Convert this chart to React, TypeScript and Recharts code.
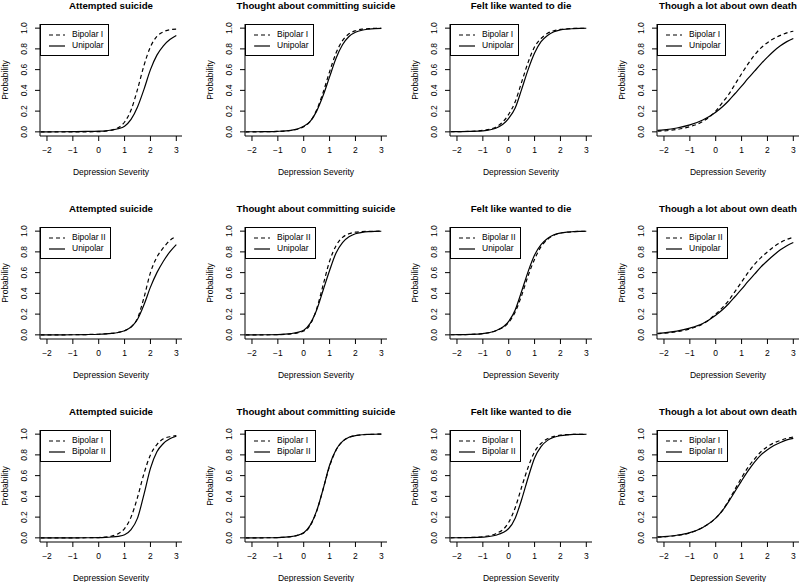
import { LineChart, Line, XAxis, YAxis, Label } from 'recharts';

// x grid the curves were read at
const severity = [-2.25, -2, -1.5, -1, -0.5, 0, 0.25, 0.5, 0.75, 1, 1.25, 1.5, 1.75, 2, 2.25, 2.5, 2.75, 3];
const xTicks = [-2, -1, 0, 1, 2, 3];
const yTicks = [0, 0.2, 0.4, 0.6, 0.8, 1];

const titles = [
  'Attempted suicide',
  'Thought about committing suicide',
  'Felt like wanted to die',
  'Though a lot about own death',
];
const rowLegends = [
  ['Bipolar I', 'Unipolar'],
  ['Bipolar II', 'Unipolar'],
  ['Bipolar I', 'Bipolar II'],
];

// row 1: Bipolar I (dashed) vs Unipolar (solid)
const attemptBipolarI1 = [0, 0, 0, 0, 0.0004, 0.0025, 0.006, 0.016, 0.04, 0.095, 0.21, 0.41, 0.64, 0.82, 0.92, 0.965, 0.985, 0.99];
const attemptUnipolar1 = [0, 0.0005, 0.001, 0.002, 0.004, 0.007, 0.01, 0.018, 0.03, 0.055, 0.12, 0.24, 0.41, 0.6, 0.74, 0.83, 0.89, 0.93];
const thoughtBipolarI1 = [0.0002, 0.0004, 0.001, 0.004, 0.013, 0.05, 0.1, 0.21, 0.38, 0.58, 0.76, 0.88, 0.945, 0.975, 0.99, 0.995, 0.998, 0.999];
const thoughtUnipolar1 = [0.0005, 0.001, 0.002, 0.005, 0.015, 0.055, 0.1, 0.2, 0.35, 0.53, 0.71, 0.84, 0.92, 0.96, 0.98, 0.99, 0.996, 0.998];
const feltBipolarI1 = [0.001, 0.002, 0.005, 0.014, 0.045, 0.17, 0.29, 0.48, 0.67, 0.82, 0.9, 0.95, 0.975, 0.988, 0.994, 0.997, 0.999, 0.999];
const feltUnipolar1 = [0.001, 0.002, 0.004, 0.01, 0.035, 0.13, 0.23, 0.41, 0.6, 0.76, 0.87, 0.93, 0.965, 0.983, 0.991, 0.995, 0.998, 0.999];
const deathBipolarI1 = [0.007, 0.01, 0.023, 0.05, 0.1, 0.2, 0.28, 0.36, 0.46, 0.56, 0.655, 0.74, 0.81, 0.86, 0.9, 0.93, 0.955, 0.97];
const deathUnipolar1 = [0.015, 0.02, 0.037, 0.067, 0.115, 0.19, 0.24, 0.3, 0.37, 0.44, 0.515, 0.585, 0.655, 0.72, 0.78, 0.83, 0.87, 0.9];

// row 2: Bipolar II (dashed) vs Unipolar (solid)
const attemptBipolarII2 = [0, 0.0003, 0.0006, 0.001, 0.003, 0.006, 0.009, 0.014, 0.023, 0.04, 0.075, 0.16, 0.36, 0.6, 0.75, 0.84, 0.91, 0.95];
const attemptUnipolar2 = [0, 0.0003, 0.0006, 0.001, 0.003, 0.006, 0.009, 0.014, 0.023, 0.04, 0.075, 0.15, 0.29, 0.46, 0.6, 0.71, 0.8, 0.87];
const thoughtBipolarII2 = [0.0001, 0.0002, 0.0005, 0.002, 0.009, 0.037, 0.1, 0.25, 0.48, 0.71, 0.86, 0.94, 0.975, 0.99, 0.996, 0.998, 0.999, 1];
const thoughtUnipolar2 = [0.0003, 0.0005, 0.001, 0.003, 0.012, 0.045, 0.11, 0.24, 0.43, 0.62, 0.79, 0.89, 0.945, 0.975, 0.988, 0.995, 0.998, 0.999];
const feltBipolarII2 = [0.001, 0.0015, 0.004, 0.012, 0.04, 0.12, 0.22, 0.38, 0.57, 0.73, 0.85, 0.92, 0.96, 0.98, 0.99, 0.995, 0.998, 0.999];
const feltUnipolar2 = [0.001, 0.0015, 0.004, 0.012, 0.04, 0.13, 0.24, 0.42, 0.61, 0.77, 0.87, 0.93, 0.965, 0.982, 0.991, 0.995, 0.998, 0.999];
const deathBipolarII2 = [0.012, 0.016, 0.03, 0.058, 0.105, 0.2, 0.26, 0.33, 0.42, 0.51, 0.6, 0.68, 0.745, 0.8, 0.85, 0.89, 0.92, 0.94];
const deathUnipolar2 = [0.015, 0.02, 0.036, 0.065, 0.11, 0.19, 0.24, 0.3, 0.37, 0.44, 0.515, 0.585, 0.655, 0.715, 0.77, 0.82, 0.86, 0.89];

// row 3: Bipolar I (dashed) vs Bipolar II (solid)
const attemptBipolarI3 = [0, 0, 0, 0.0003, 0.001, 0.003, 0.007, 0.017, 0.04, 0.09, 0.2, 0.39, 0.62, 0.8, 0.9, 0.955, 0.975, 0.985];
const attemptBipolarII3 = [0, 0, 0, 0.0003, 0.001, 0.002, 0.004, 0.008, 0.015, 0.03, 0.08, 0.19, 0.42, 0.67, 0.83, 0.91, 0.955, 0.98];
const thoughtBipolarI3 = [0.0002, 0.0003, 0.0008, 0.003, 0.012, 0.048, 0.115, 0.255, 0.47, 0.69, 0.845, 0.93, 0.97, 0.987, 0.995, 0.998, 0.999, 1];
const thoughtBipolarII3 = [0.0002, 0.0003, 0.0008, 0.003, 0.012, 0.05, 0.12, 0.26, 0.47, 0.7, 0.85, 0.93, 0.97, 0.986, 0.994, 0.997, 0.999, 1];
const feltBipolarI3 = [0.001, 0.0015, 0.004, 0.011, 0.04, 0.15, 0.29, 0.49, 0.68, 0.83, 0.91, 0.955, 0.978, 0.99, 0.995, 0.997, 0.999, 0.999];
const feltBipolarII3 = [0.0005, 0.001, 0.002, 0.007, 0.025, 0.09, 0.19, 0.37, 0.58, 0.77, 0.88, 0.94, 0.97, 0.985, 0.993, 0.997, 0.998, 0.999];
const deathBipolarI3 = [0.007, 0.01, 0.022, 0.048, 0.1, 0.19, 0.26, 0.36, 0.47, 0.58, 0.68, 0.76, 0.83, 0.88, 0.915, 0.94, 0.96, 0.972];
const deathBipolarII3 = [0.009, 0.012, 0.025, 0.05, 0.1, 0.19, 0.26, 0.35, 0.45, 0.55, 0.645, 0.73, 0.8, 0.85, 0.89, 0.92, 0.945, 0.96];

const grid = [
  [
    [attemptBipolarI1, attemptUnipolar1],
    [thoughtBipolarI1, thoughtUnipolar1],
    [feltBipolarI1, feltUnipolar1],
    [deathBipolarI1, deathUnipolar1],
  ],
  [
    [attemptBipolarII2, attemptUnipolar2],
    [thoughtBipolarII2, thoughtUnipolar2],
    [feltBipolarII2, feltUnipolar2],
    [deathBipolarII2, deathUnipolar2],
  ],
  [
    [attemptBipolarI3, attemptBipolarII3],
    [thoughtBipolarI3, thoughtBipolarII3],
    [feltBipolarI3, feltBipolarII3],
    [deathBipolarI3, deathBipolarII3],
  ],
];

// plot box positions on the page
const colLeft = [40, 245, 450, 657];
const rowTop = [24, 227, 430];
const BOX_W = 142;
const BOX_H = 112;
const AXIS_W = 40;
const AXIS_H = 46;
const TOP = 24;
const CHART_W = AXIS_W + BOX_W + 16;
const CHART_H = TOP + BOX_H + AXIS_H;

const X_DOMAIN = [-2.27, 3.22];
const Y_DOMAIN = [-0.04, 1.04];
const FONT = '"Liberation Sans", Arial, sans-serif';
const DASH = '4 3';

const fmtX = (v: number) => (v < 0 ? `\u2212${-v}` : `${v}`);

function YTick(props: any) {
  const { x, y, payload } = props;
  return (
    <text
      x={x}
      y={y}
      transform={`rotate(-90 ${x} ${y})`}
      textAnchor="middle"
      fontSize={8.5}
      fill="#000"
    >
      {Number(payload.value).toFixed(1)}
    </text>
  );
}

function YLabel(props: any) {
  const vb = props.viewBox || { x: 0, y: TOP, width: AXIS_W, height: BOX_H };
  const x = vb.x + vb.width - 32;
  const y = vb.y + vb.height / 2;
  return (
    <text x={x} y={y} transform={`rotate(-90 ${x} ${y})`} textAnchor="middle" fontSize={8.5} fill="#000">
      Probability
    </text>
  );
}

function XLabel(props: any) {
  const vb = props.viewBox || { x: AXIS_W, y: TOP + BOX_H, width: BOX_W, height: AXIS_H };
  return (
    <text x={vb.x + vb.width / 2} y={vb.y + 39} textAnchor="middle" fontSize={8.5} fill="#000">
      Depression Severity
    </text>
  );
}

function LegendBox({ labels }: { labels: string[] }) {
  const row = (label: string, dashed: boolean) => (
    <div style={{ display: 'flex', alignItems: 'center', height: 11 }}>
      <svg width={16} height={4} style={{ marginRight: 7 }}>
        <line x1={0} y1={2} x2={16} y2={2} stroke="#000" strokeWidth={1.2} strokeDasharray={dashed ? DASH : undefined} />
      </svg>
      <span>{label}</span>
    </div>
  );
  return (
    <div
      style={{
        position: 'absolute',
        left: AXIS_W,
        top: TOP,
        border: '1px solid #000',
        background: '#fff',
        padding: '4px 4px 4px 8px',
        fontSize: 8.5,
        lineHeight: '11px',
        whiteSpace: 'nowrap',
      }}
    >
      {row(labels[0], true)}
      {row(labels[1], false)}
    </div>
  );
}

function Panel({ title, labels, dashed, solid, left, top }: any) {
  const data = severity.map((x, i) => ({ x, dashed: dashed[i], solid: solid[i] }));
  return (
    <div style={{ position: 'absolute', left: left - AXIS_W, top: top - TOP, width: CHART_W, height: CHART_H }}>
      <div
        style={{
          position: 'absolute',
          left: AXIS_W - 20,
          width: BOX_W + 40,
          top: 0,
          textAlign: 'center',
          fontWeight: 'bold',
          fontSize: 9.7,
          lineHeight: '11px',
          whiteSpace: 'nowrap',
        }}
      >
        {title}
      </div>
      <LineChart width={CHART_W} height={CHART_H} data={data} margin={{ top: TOP, right: 16, bottom: 0, left: 0 }}>
        <XAxis
          dataKey="x"
          type="number"
          domain={X_DOMAIN}
          ticks={xTicks}
          interval={0}
          allowDataOverflow
          height={AXIS_H}
          tickSize={5}
          tickMargin={6}
          stroke="#000"
          tick={{ fill: '#000', fontSize: 8.5 }}
          tickFormatter={fmtX}
        >
          <Label content={XLabel} />
        </XAxis>
        <XAxis xAxisId="top" orientation="top" type="number" domain={X_DOMAIN} allowDataOverflow height={0} tick={false} tickLine={false} stroke="#000" />
        <YAxis
          type="number"
          domain={Y_DOMAIN}
          ticks={yTicks}
          interval={0}
          allowDataOverflow
          width={AXIS_W}
          tickSize={5}
          tickMargin={8}
          stroke="#000"
          tick={<YTick />}
        >
          <Label content={YLabel} />
        </YAxis>
        <YAxis yAxisId="right" orientation="right" type="number" domain={Y_DOMAIN} allowDataOverflow width={0} tick={false} tickLine={false} stroke="#000" />
        <Line dataKey="solid" type="monotone" stroke="#000" strokeWidth={1.2} dot={false} activeDot={false} isAnimationActive={false} />
        <Line dataKey="dashed" type="monotone" stroke="#000" strokeWidth={1.2} strokeDasharray={DASH} dot={false} activeDot={false} isAnimationActive={false} />
      </LineChart>
      <LegendBox labels={labels} />
    </div>
  );
}

export default function App() {
  return (
    <div
      style={{
        position: 'absolute',
        left: 0,
        top: 0,
        width: 800,
        height: 582,
        overflow: 'hidden',
        background: '#fff',
        fontFamily: FONT,
        color: '#000',
      }}
    >
      {grid.map((rowPanels, r) =>
        rowPanels.map(([dashed, solid], c) => (
          <Panel
            key={`${r}-${c}`}
            title={titles[c]}
            labels={rowLegends[r]}
            dashed={dashed}
            solid={solid}
            left={colLeft[c]}
            top={rowTop[r]}
          />
        ))
      )}
    </div>
  );
}
